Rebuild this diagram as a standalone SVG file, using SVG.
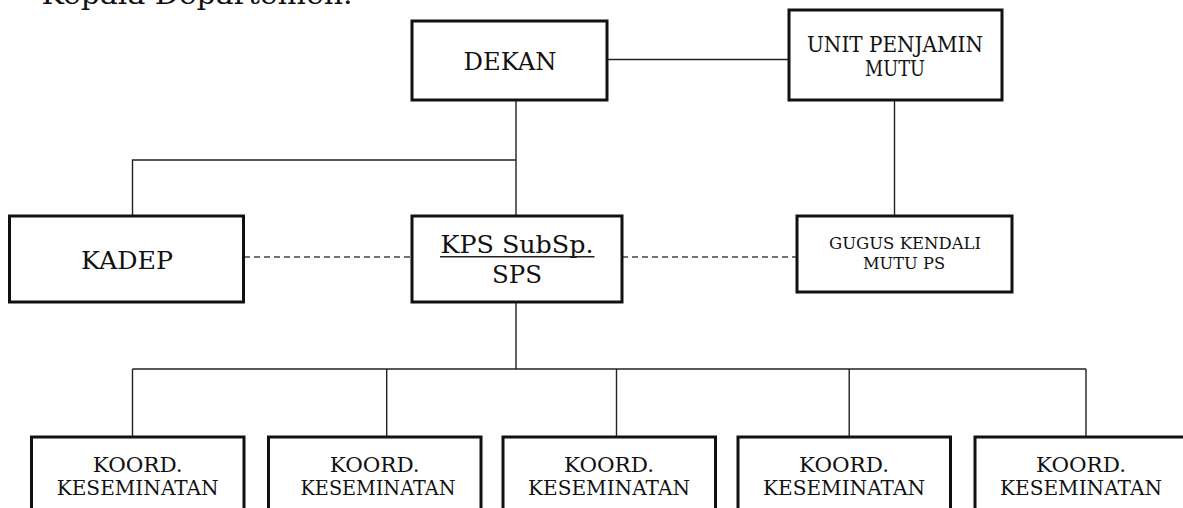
<svg xmlns="http://www.w3.org/2000/svg" width="1183" height="508" viewBox="0 0 1183 508">
<style>
.box{fill:#fff;stroke:#111;stroke-width:3}
.ln{fill:none;stroke:#222;stroke-width:1.4}
.dash{fill:none;stroke:#444;stroke-width:1.6;stroke-dasharray:6 4}
text{font-family:"DejaVu Serif","Liberation Serif",serif;fill:#111;text-anchor:middle}
</style>
<rect width="1183" height="508" fill="#fff"/>
<text x="197" y="4" font-size="28" textLength="311" lengthAdjust="spacingAndGlyphs">Kepala Departemen.</text>
<g id="connectors">
<path class="ln" d="M607 59.5H789"/>
<path class="ln" d="M516 100V216"/>
<path class="ln" d="M132.5 216V160H516"/>
<path class="ln" d="M894.5 100V216"/>
<path class="dash" d="M244 257H412"/>
<path class="dash" d="M622 257H797"/>
<path class="ln" d="M516 302V369"/>
<path class="ln" d="M132.5 369H1086"/>
<path class="ln" d="M132.5 369V437M386.7 369V437M616.5 369V437M849.2 369V437M1086 369V437"/>
</g>
<g id="dekan">
<rect class="box" x="412" y="21" width="195" height="79"/>
<text x="510" y="69.5" font-size="25" textLength="93" lengthAdjust="spacingAndGlyphs">DEKAN</text>
</g>
<g id="upm">
<rect class="box" x="789" y="10" width="213" height="90"/>
<text x="895" y="52" font-size="22" textLength="176" lengthAdjust="spacingAndGlyphs">UNIT PENJAMIN</text>
<text x="895" y="76" font-size="22" textLength="60" lengthAdjust="spacingAndGlyphs">MUTU</text>
</g>
<g id="kadep">
<rect class="box" x="9.5" y="216" width="234" height="86"/>
<text x="127" y="268.5" font-size="25" textLength="92" lengthAdjust="spacingAndGlyphs">KADEP</text>
</g>
<g id="kps">
<rect class="box" x="412" y="216" width="210" height="86"/>
<text x="517" y="253" font-size="24" textLength="153" lengthAdjust="spacingAndGlyphs">KPS SubSp.</text>
<path d="M440 256.7H594.5" stroke="#222" stroke-width="1.5"/>
<text x="517" y="282.7" font-size="24" textLength="50" lengthAdjust="spacingAndGlyphs">SPS</text>
</g>
<g id="gugus">
<rect class="box" x="797" y="216" width="215" height="76"/>
<text x="905" y="249.3" font-size="17" textLength="152" lengthAdjust="spacingAndGlyphs">GUGUS KENDALI</text>
<text x="904" y="269.3" font-size="17" textLength="82" lengthAdjust="spacingAndGlyphs">MUTU PS</text>
</g>
<g id="koord1">
<rect class="box" x="31.5" y="437" width="212.5" height="100"/>
<text x="137.7" y="471.7" font-size="20.5" textLength="90" lengthAdjust="spacingAndGlyphs">KOORD.</text>
<text x="137.7" y="495" font-size="20.5" textLength="162" lengthAdjust="spacingAndGlyphs">KESEMINATAN</text>
</g>
<g id="koord2">
<rect class="box" x="268.5" y="437" width="212.5" height="100"/>
<text x="374.7" y="471.7" font-size="20.5" textLength="90" lengthAdjust="spacingAndGlyphs">KOORD.</text>
<text x="378" y="495" font-size="20.5" textLength="155" lengthAdjust="spacingAndGlyphs">KESEMINATAN</text>
</g>
<g id="koord3">
<rect class="box" x="503" y="437" width="212.5" height="100"/>
<text x="609" y="471.7" font-size="20.5" textLength="90" lengthAdjust="spacingAndGlyphs">KOORD.</text>
<text x="609" y="495" font-size="20.5" textLength="162" lengthAdjust="spacingAndGlyphs">KESEMINATAN</text>
</g>
<g id="koord4">
<rect class="box" x="738" y="437" width="212.5" height="100"/>
<text x="844" y="471.7" font-size="20.5" textLength="90" lengthAdjust="spacingAndGlyphs">KOORD.</text>
<text x="844" y="495" font-size="20.5" textLength="162" lengthAdjust="spacingAndGlyphs">KESEMINATAN</text>
</g>
<g id="koord5">
<rect class="box" x="975" y="437" width="212.5" height="100"/>
<text x="1081" y="471.7" font-size="20.5" textLength="90" lengthAdjust="spacingAndGlyphs">KOORD.</text>
<text x="1081" y="495" font-size="20.5" textLength="162" lengthAdjust="spacingAndGlyphs">KESEMINATAN</text>
</g>
</svg>
